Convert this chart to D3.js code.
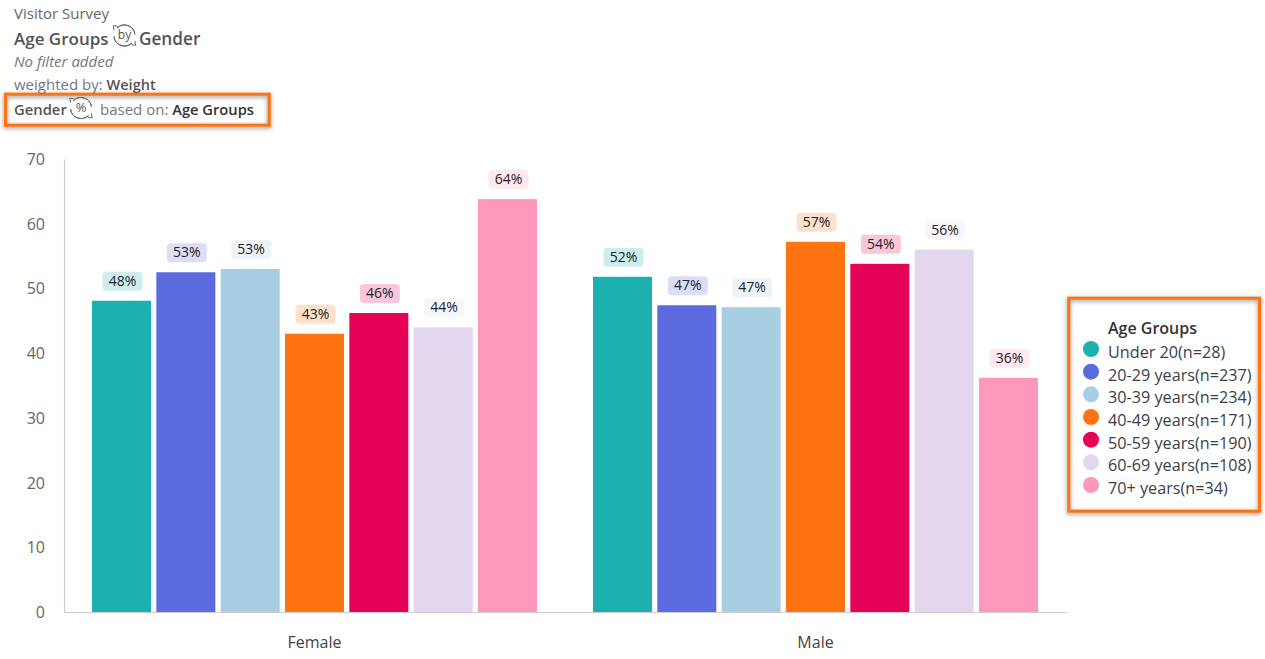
<!DOCTYPE html>
<html>
<head>
<meta charset="utf-8">
<title>Age Groups by Gender</title>
<script src="https://cdn.jsdelivr.net/npm/d3@7/dist/d3.min.js"></script>
<style>
  html, body { margin: 0; padding: 0; background: #fff; }
  svg { display: block; font-family: "Open Sans", sans-serif; }
</style>
</head>
<body>
<svg id="chart" width="1265" height="659"></svg>
<script>
const genders = ["Female", "Male"];
const ageGroups = ["Under 20", "20-29 years", "30-39 years", "40-49 years", "50-59 years", "60-69 years", "70+ years"];
const sampleSizes = [28, 237, 234, 171, 190, 108, 34];
const femaleShare = [48.1, 52.5, 53.0, 43.0, 46.2, 44.0, 63.8];
const maleShare = [51.8, 47.4, 47.1, 57.2, 53.8, 56.0, 36.2];
const palette = ["#1cb0ae", "#5b6bdf", "#a7cee2", "#ff7410", "#e60256", "#e2d7ef", "#ff96bc"];
const yTicks = [0, 10, 20, 30, 40, 50, 60, 70];

const svg = d3.select("#chart");
const plot = { left: 64.5, right: 1066.5, top: 159, bottom: 612 };

const x0 = d3.scaleBand().domain(genders).range([plot.left, plot.right]);
const x1 = d3.scaleBand().domain(ageGroups).range([27.5, 472.5]).paddingInner(0.083).paddingOuter(0);
const y = d3.scaleLinear().domain([0, 70]).range([plot.bottom, plot.top]);
const colour = d3.scaleOrdinal().domain(ageGroups).range(palette);

// Soft grey halo shared by the two highlight boxes
const defs = svg.append("defs");
const halo = defs.append("filter").attr("id", "boxHalo")
  .attr("x", "-10%").attr("y", "-30%").attr("width", "120%").attr("height", "160%");
halo.append("feGaussianBlur").attr("stdDeviation", 2);

function highlightBox(bx, by, bw, bh) {
  svg.append("rect").attr("x", bx).attr("y", by + 1.5).attr("width", bw).attr("height", bh)
    .attr("fill", "none").attr("stroke", "#777").attr("stroke-width", 4)
    .attr("stroke-opacity", 0.65).attr("filter", "url(#boxHalo)");
  svg.append("rect").attr("x", bx).attr("y", by).attr("width", bw).attr("height", bh)
    .attr("fill", "none").attr("stroke", "#ff7410").attr("stroke-width", 3);
}
highlightBox(5.5, 94.2, 263.7, 31);
highlightBox(1068.8, 298.2, 190.7, 213);

// Circular-arrows badge used in the header lines
function badge(cx, cy, label, fontSize) {
  const g = svg.append("g").attr("transform", `translate(${cx},${cy})`);
  const arc = d3.arc().innerRadius(10.5).outerRadius(10.5);
  [[-0.8, 1.45], [2.35, 4.6]].forEach(([a0, a1]) => {
    g.append("path").attr("d", arc({ startAngle: a0, endAngle: a1 }))
      .attr("fill", "none").attr("stroke", "#666").attr("stroke-width", 1);
  });
  g.append("path").attr("d", "M10.4,5.4 L11.2,9.8 L6.8,9.2").attr("fill", "none").attr("stroke", "#666");
  g.append("path").attr("d", "M-10.4,-5.4 L-11.2,-9.8 L-6.8,-9.2").attr("fill", "none").attr("stroke", "#666");
  g.append("text").attr("text-anchor", "middle").attr("y", 3.8)
    .attr("font-size", fontSize).attr("fill", "#555").text(label);
}

// Header block
const header = svg.append("g");
header.append("text").attr("x", 14).attr("y", 19).attr("font-size", 15).attr("fill", "#666").text("Visitor Survey");
header.append("text").attr("x", 14).attr("y", 45).attr("font-size", 17).attr("font-weight", 600).attr("fill", "#555").text("Age Groups");
badge(124.5, 35.5, "by", 12);
header.append("text").attr("x", 139).attr("y", 45).attr("font-size", 17.2).attr("font-weight", 600).attr("fill", "#555").text("Gender");
header.append("text").attr("x", 14).attr("y", 67).attr("font-size", 15).attr("font-style", "italic").attr("fill", "#777").text("No filter added");
const weighted = header.append("text").attr("x", 14).attr("y", 90).attr("font-size", 15).attr("fill", "#777");
weighted.append("tspan").text("weighted by: ");
weighted.append("tspan").attr("font-weight", 600).attr("font-size", 14.5).attr("fill", "#555").text("Weight");
header.append("text").attr("x", 14).attr("y", 115).attr("font-size", 14.8).attr("font-weight", 600).attr("fill", "#555").text("Gender");
badge(81, 108, "%", 13);
const based = header.append("text").attr("x", 100).attr("y", 115).attr("font-size", 15).attr("fill", "#777");
based.append("tspan").text("based on: ");
based.append("tspan").attr("font-weight", 600).attr("font-size", 14.7).attr("fill", "#333").text("Age Groups");

// Value axis
const yAxis = svg.append("g").attr("transform", `translate(${plot.left - 0.5},0)`)
  .call(d3.axisLeft(y).tickValues(yTicks).tickSize(0).tickPadding(19));
yAxis.select(".domain").attr("stroke", "#ccc").attr("stroke-width", 1.2);
yAxis.selectAll("text").attr("font-size", 16).attr("fill", "#666").attr("font-family", "Open Sans").attr("dy", "0.34em");

// Category axis
const xAxis = svg.append("g").attr("transform", `translate(-0.5,${plot.bottom})`)
  .call(d3.axisBottom(x0).tickSize(0).tickPadding(25));
xAxis.select(".domain").attr("stroke", "#ccc").attr("stroke-width", 1.2);
xAxis.selectAll("text").attr("font-size", 16).attr("fill", "#444").attr("font-family", "Open Sans");

// Bars with rounded-percent pills above them
const rows = [femaleShare, maleShare];
const groups = svg.selectAll("g.gender").data(genders).join("g")
  .attr("class", "gender")
  .attr("transform", d => `translate(${x0(d)},0)`);

const cells = groups.selectAll("g.cell")
  .data((d, i) => ageGroups.map((age, j) => ({ age, value: rows[i][j] })))
  .join("g").attr("class", "cell");

cells.append("rect")
  .attr("x", d => x1(d.age))
  .attr("y", d => y(d.value))
  .attr("width", x1.bandwidth())
  .attr("height", d => y(0) - y(d.value))
  .attr("fill", d => colour(d.age));

cells.append("rect")
  .attr("x", d => x1(d.age) + x1.bandwidth() / 2 - 19)
  .attr("y", d => y(d.value) - 29)
  .attr("width", 40).attr("height", 19).attr("rx", 4)
  .attr("fill", d => colour(d.age)).attr("fill-opacity", 0.22);

cells.append("text")
  .attr("x", d => x1(d.age) + x1.bandwidth() / 2 + 1)
  .attr("y", d => y(d.value) - 15)
  .attr("text-anchor", "middle").attr("font-size", 14).attr("fill", "#222")
  .text(d => `${d3.format(".0f")(d.value)}%`);

// Legend
const legend = svg.append("g");
legend.append("text").attr("x", 1108).attr("y", 334).attr("font-size", 16).attr("font-weight", 600).attr("fill", "#333").text("Age Groups");
const legendY = d3.scalePoint().domain(ageGroups).range([352, 488]);
const items = legend.selectAll("g.item").data(ageGroups).join("g").attr("class", "item")
  .attr("transform", d => `translate(0,${legendY(d)})`);
items.append("circle").attr("cx", 1091).attr("cy", -3).attr("r", 8).attr("fill", d => colour(d));
items.append("text").attr("x", 1108).attr("y", 6).attr("font-size", 16.2).attr("fill", "#3a3f4a")
  .text((d, i) => `${d}(n=${sampleSizes[i]})`);
</script>
</body>
</html>
